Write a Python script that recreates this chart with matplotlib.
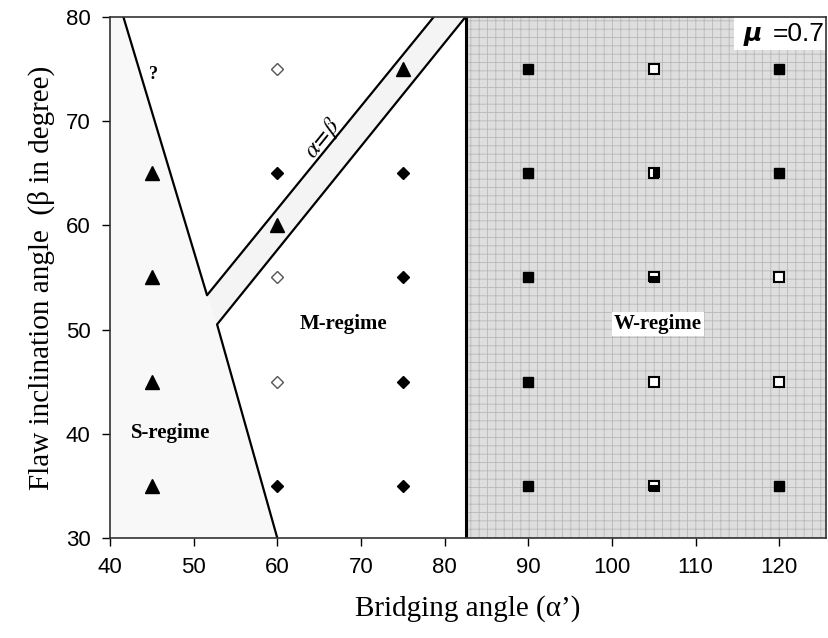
import matplotlib.pyplot as plt

plt.rcParams['hatch.linewidth'] = 0.6
plt.rcParams['mathtext.fontset'] = 'stix'

# test points: bridging angle, flaw angle
tri_x = [45, 45, 45, 45, 60, 75]
tri_y = [35, 45, 55, 65, 60, 75]
dia_fill_x = [60, 60, 75, 75, 75, 75]
dia_fill_y = [65, 35, 65, 55, 45, 35]
dia_open_x = [60, 60, 60]
dia_open_y = [75, 55, 45]
sq_fill_x = [90, 90, 90, 90, 90, 120, 120, 120]
sq_fill_y = [75, 65, 55, 45, 35, 75, 65, 35]
sq_open_x = [105, 105, 120, 120]
sq_open_y = [75, 45, 55, 45]
sq_half_x = [105, 105, 105]
sq_half_y = [65, 55, 35]
sq_half_style = ['right', 'bottom', 'bottom']

# regime boundaries
left_x = [41.6, 51.6, 78.7]
left_y = [80, 53.3, 80]
low_x = [60, 52.8, 82.5]
low_y = [30, 50.5, 80]
w_bound = 82.5

fig = plt.figure(figsize=(8.29, 6.38), dpi=100)
ax = fig.add_axes([0.1327, 0.1567, 0.8637, 0.8167])
ax.set_xlim(40, 125.6)
ax.set_ylim(30, 80)

# shaded areas
ax.fill([40, 40, left_x[0], left_x[1], low_x[1], low_x[0]],
        [30, 80, 80, left_y[1], low_y[1], 30], color='#f8f8f8', lw=0, zorder=0)
ax.fill([left_x[1], left_x[2], low_x[2], low_x[1]],
        [left_y[1], left_y[2], low_y[2], low_y[1]], color='#f4f4f4', lw=0, zorder=0)
ax.fill([w_bound, 125.6, 125.6, w_bound], [30, 30, 80, 80],
        facecolor='#dedede', edgecolor='#b8b8b8', hatch='++', lw=0, zorder=0)

ax.plot(left_x, left_y, color='black', lw=1.6, zorder=2)
ax.plot(low_x, low_y, color='black', lw=1.6, zorder=2)
ax.plot([w_bound, w_bound], [30, 80], color='black', lw=2.2, zorder=2)

ax.plot(tri_x, tri_y, '^', color='black', ms=9.5, ls='none', zorder=3)
ax.plot(dia_fill_x, dia_fill_y, 'D', color='black', ms=6, ls='none', zorder=3)
ax.plot(dia_open_x, dia_open_y, 'D', mfc='white', mec='#555555', mew=1, ms=6, ls='none', zorder=3)
ax.plot(sq_fill_x, sq_fill_y, 's', color='black', ms=6.5, ls='none', zorder=3)
ax.plot(sq_open_x, sq_open_y, 's', mfc='white', mec='black', mew=1.5, ms=6.5, ls='none', zorder=3)
for x, y, st in zip(sq_half_x, sq_half_y, sq_half_style):
    ax.plot([x], [y], 's', color='black', mfc='black', mfcalt='white', fillstyle=st,
            mec='black', mew=1.5, ms=6.5, zorder=3)

# annotations
ax.text(45.2, 74.5, '?', fontsize=13, fontweight='bold', family='Liberation Serif',
        ha='center', va='center')
ax.text(65.5, 68.3, r'$\alpha\!=\!\beta$', fontsize=17, rotation=51,
        ha='center', va='center')
ax.text(47.2, 40.1, 'S-regime', fontsize=15, fontweight='bold', family='Liberation Serif',
        ha='center', va='center')
ax.text(67.9, 50.5, 'M-regime', fontsize=15, fontweight='bold', family='Liberation Serif',
        ha='center', va='center')
ax.text(105.5, 50.5, 'W-regime', fontsize=15, fontweight='bold', family='Liberation Serif',
        ha='center', va='center',
        bbox=dict(facecolor='white', edgecolor='none', pad=1.5))

# mu box
ax.fill([114.6, 125.6, 125.6, 114.6], [76.8, 76.8, 80, 80], color='white', lw=0, zorder=1)
ax.text(115.7, 78.4, '\u03bc', fontsize=18, fontweight='bold', style='italic',
        family='DejaVu Sans', ha='left', va='center', zorder=4)
ax.text(125.5, 78.4, '=0.7', fontsize=19, family='Liberation Sans',
        ha='right', va='center', zorder=4)

ax.set_xticks([40, 50, 60, 70, 80, 90, 100, 110, 120])
ax.set_yticks([30, 40, 50, 60, 70, 80])
ax.tick_params(direction='out', length=6, width=1, labelsize=16, pad=8)
for lab in ax.get_xticklabels() + ax.get_yticklabels():
    lab.set_family('Liberation Sans')
for s in ax.spines.values():
    s.set_linewidth(1.2)
    s.set_color('#333333')

ax.set_xlabel("Bridging angle (\u03b1\u2019)", fontsize=21, family='Liberation Serif', labelpad=12)
ax.set_ylabel('Flaw inclination angle  (\u03b2 in degree)', fontsize=21,
              family='Liberation Serif', labelpad=8)

fig.savefig('out.png', dpi=100)
